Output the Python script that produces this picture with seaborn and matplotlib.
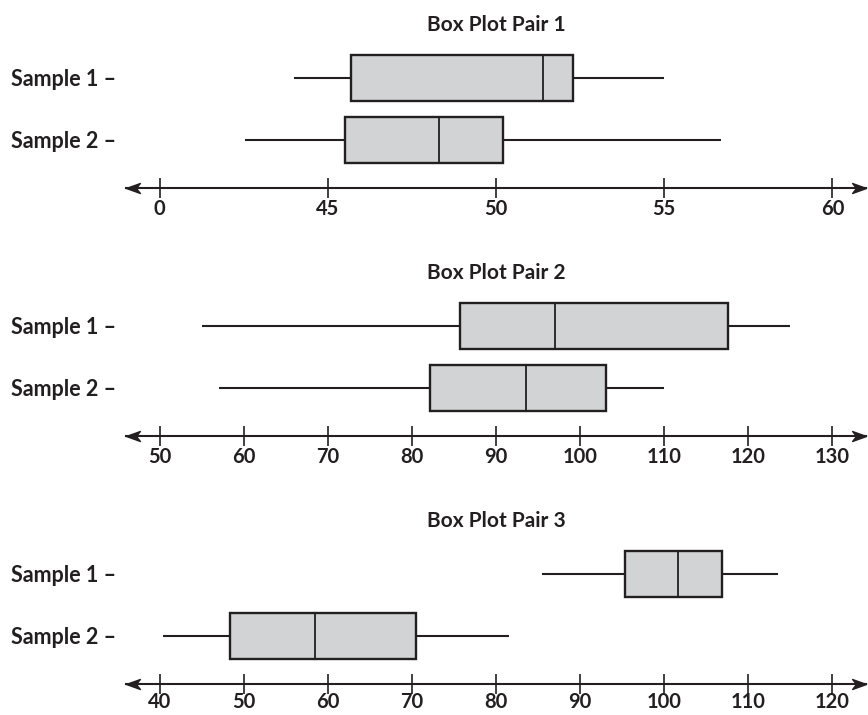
import numpy as np
import pandas as pd
import matplotlib
matplotlib.use("Agg")
import matplotlib.pyplot as plt
from matplotlib.path import Path
import seaborn as sns

# Five-number summaries (min, Q1, median, Q3, max) for each sample
pair1_sample1 = [44.0, 45.7, 51.4, 52.3, 55.0]
pair1_sample2 = [42.55, 45.5, 48.3, 50.2, 56.7]
pair2_sample1 = [55.0, 85.7, 97.0, 117.6, 125.0]
pair2_sample2 = [57.0, 82.2, 93.6, 103.1, 110.0]
pair3_sample1 = [85.5, 95.3, 101.7, 106.9, 113.5]
pair3_sample2 = [40.4, 48.4, 58.5, 70.5, 81.5]

titles = ["Box Plot Pair 1", "Box Plot Pair 2", "Box Plot Pair 3"]
sample_names = ["Sample 1 –", "Sample 2 –"]

pair1_ticks = [40, 45, 50, 55, 60]
pair1_ticklabels = ["0", "45", "50", "55", "60"]
pair2_ticks = [50, 60, 70, 80, 90, 100, 110, 120, 130]
pair3_ticks = [40, 50, 60, 70, 80, 90, 100, 110, 120]

pairs = [
    (pair1_sample1, pair1_sample2, pair1_ticks, pair1_ticklabels, (39, 61)),
    (pair2_sample1, pair2_sample2, pair2_ticks, [str(t) for t in pair2_ticks], (46, 134)),
    (pair3_sample1, pair3_sample2, pair3_ticks, [str(t) for t in pair3_ticks], (36, 124)),
]

INK = "#231f20"
FILL = "#d1d3d4"

sns.set_theme(style="white")
plt.rcParams["font.family"] = ["Lato", "DejaVu Sans"]

W, H = 868, 715
fig = plt.figure(figsize=(W / 100, H / 100), dpi=100)

# Stealth-style arrowhead with its tip at the origin, pointing right
head = Path([(0, 0), (-1.0, 0.36), (-0.72, 0), (-1.0, -0.36), (0, 0)],
            [Path.MOVETO, Path.LINETO, Path.LINETO, Path.LINETO, Path.CLOSEPOLY])
head_left = Path(head.vertices * np.array([-1, 1]), head.codes)

centers = [78, 326, 574]
label_pads = [0.5, 0.5, -1.5]
left_px, right_px = 126, 866
for (s1, s2, ticks, ticklabels, xlim), title, c, lpad in zip(pairs, titles, centers, label_pads):
    top_px = c - 0.7 * 62
    bot_px = c + 1.78 * 62
    ax = fig.add_axes([left_px / W, 1 - bot_px / H,
                       (right_px - left_px) / W, (bot_px - top_px) / H])

    df = pd.DataFrame({
        "sample": [sample_names[0]] * len(s1) + [sample_names[1]] * len(s2),
        "value": s1 + s2,
    })
    sns.boxplot(data=df, x="value", y="sample", order=sample_names, orient="h",
                whis=(0, 100), showcaps=False, width=0.73, color=FILL,
                saturation=1, linecolor=INK, linewidth=1.7, ax=ax,
                medianprops=dict(color=INK, linewidth=1.3),
                whiskerprops=dict(color=INK, linewidth=1.5))

    ax.set_xlim(*xlim)
    ax.set_ylim(1.78, -0.7)
    ax.set_xlabel("")
    ax.set_ylabel("")
    for side in ["left", "top", "right"]:
        ax.spines[side].set_visible(False)
    ax.spines["bottom"].set_color(INK)
    ax.spines["bottom"].set_linewidth(1.5)

    ax.set_xticks(ticks)
    ax.set_xticklabels(ticklabels)
    ax.tick_params(axis="x", bottom=True, direction="inout", length=13.7,
                   width=1.2, colors=INK, pad=lpad, labelsize=14.5)
    ax.tick_params(axis="y", left=False, length=0, pad=7, labelsize=15.5,
                   colors=INK)
    for lab in ax.get_xticklabels() + ax.get_yticklabels():
        lab.set_fontweight("bold")

    # Arrowheads at both ends of the number line
    ax.plot([1], [0], transform=ax.transAxes, marker=head, markersize=20,
            color=INK, clip_on=False, linestyle="none")
    ax.plot([0], [0], transform=ax.transAxes, marker=head_left, markersize=20,
            color=INK, clip_on=False, linestyle="none")

    fig.text((left_px + right_px) / 2 / W, 1 - (c - 53) / H, title,
             ha="center", va="center", fontsize=15, fontweight="bold",
             color=INK)

fig.savefig("out.png", dpi=100)
